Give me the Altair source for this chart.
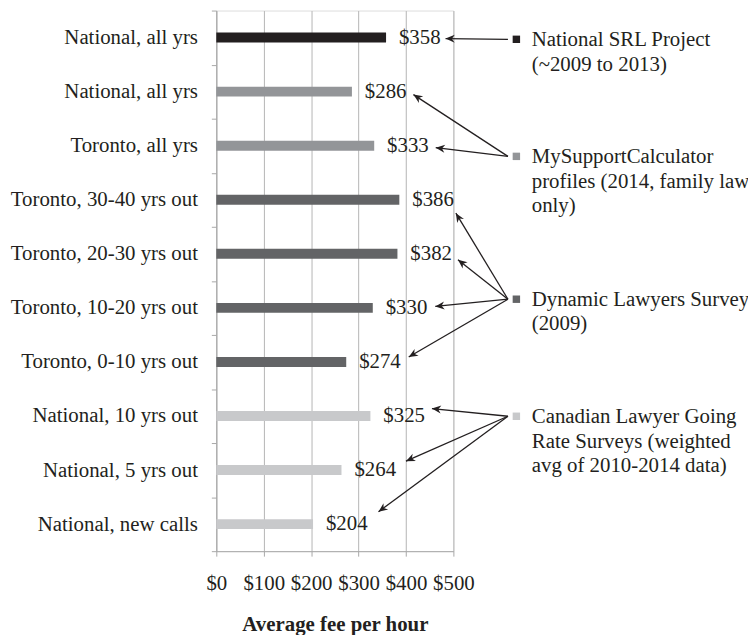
import json
import math
import altair as alt
import pandas as pd

# ---------------- data ----------------
categories = [
    "National, all yrs", "National, all yrs", "Toronto, all yrs",
    "Toronto, 30-40 yrs out", "Toronto, 20-30 yrs out", "Toronto, 10-20 yrs out",
    "Toronto, 0-10 yrs out", "National, 10 yrs out", "National, 5 yrs out",
    "National, new calls",
]
fees = [358, 286, 333, 386, 382, 330, 274, 325, 264, 204]
sources = ["srl", "msc", "msc", "dyn", "dyn", "dyn", "dyn", "can", "can", "can"]
source_keys = ["srl", "msc", "dyn", "can"]
source_names = [
    "National SRL Project\n(~2009 to 2013)",
    "MySupportCalculator\nprofiles (2014, family law\nonly)",
    "Dynamic Lawyers Survey\n(2009)",
    "Canadian Lawyer Going\nRate Surveys (weighted\navg of 2010-2014 data)",
]
x_ticks = [0, 100, 200, 300, 400, 500]

# ---------------- style / layout ----------------
source_colors = ["#231f20", "#939598", "#636466", "#c8c9cb"]
FONT = "Liberation Serif"
TXT = "#231f20"
GRID = "#b4b4b4"
W, H = 239, 545
BAND = H / len(categories)
DPP = 500 / W  # data units per pixel
legend_y = [29, 147, 291, 409]          # first-line centre (px from plot top)
arrow_gap = [60, 62, 62, 57, 61, 63, 63, 62, 65, 66]   # px past bar end
arrow_dy = [1, 3, 2, 13.5, 6, -1.5, -5, -7.5, -9, -12.5]
ARROW_START_PX = 294
SQUARE_PX = 302.5
TEXT_PX = 318

rows = list(range(len(categories)))
df = pd.DataFrame({
    "row": rows,
    "cat": categories,
    "fee": fees,
    "src": sources,
    "lab": ["$" + str(v) for v in fees],
})

leg = pd.DataFrame({
    "src": source_keys,
    "name": source_names,
    "xs": [SQUARE_PX * DPP] * 4,
    "xt": [TEXT_PX * DPP] * 4,
    "yc": legend_y,
    "yb": [v + 6.5 for v in legend_y],
})

arr_rows = []
for i in rows:
    k = source_keys.index(sources[i])
    x0p = ARROW_START_PX
    y0p = legend_y[k]
    x1p = fees[i] / DPP + arrow_gap[i]
    y1p = (i + 0.5) * BAND + arrow_dy[i]
    ang = math.degrees(math.atan2(x1p - x0p, -(y1p - y0p))) % 360
    arr_rows.append({"x0": x0p * DPP, "x1": x1p * DPP, "y0": y0p, "y1": y1p, "ang": ang})
arr = pd.DataFrame(arr_rows)

xscale = alt.Scale(domain=[0, 500], nice=False, zero=True)
xaxis = alt.Axis(
    values=x_ticks, labelExpr="'$' + datum.value", grid=True, gridColor=GRID,
    gridWidth=1, domainColor="#a8a8a8", tickColor="#a8a8a8", tickSize=5,
    labelFont=FONT, labelFontSize=21, labelColor=TXT, labelPadding=17,
    labelOverlap=False, labelFlush=False, labelBound=False,
    title="Average fee per hour", titleFont=FONT, titleFontSize=21,
    titleFontWeight="bold", titleColor=TXT, titlePadding=20,
)
color = alt.Color("src:N", scale=alt.Scale(domain=source_keys, range=source_colors), legend=None)

label_expr = json.dumps(categories) + "[datum.value]"
yaxis = alt.Axis(
    labelExpr=label_expr, tickBand="extent", tickSize=5, tickColor="#a8a8a8",
    domainColor="#a8a8a8", labelFont=FONT, labelFontSize=21, labelColor=TXT,
    labelPadding=14, labelLimit=0, labelOverlap=False, title=None, grid=False,
)
yenc = alt.Y("row:O", scale=alt.Scale(paddingInner=0, paddingOuter=0), axis=yaxis)

bars = alt.Chart(df).mark_bar(size=10).encode(
    x=alt.X("fee:Q", scale=xscale, axis=xaxis), y=yenc, color=color,
)
vals = alt.Chart(df).mark_text(
    align="left", baseline="middle", dx=13, font=FONT, fontSize=21, color=TXT
).encode(x=alt.X("fee:Q", scale=xscale, axis=xaxis), y=yenc, text="lab:N")

lines = alt.Chart(arr).mark_rule(color=TXT, strokeWidth=1.3).encode(
    x=alt.X("x0:Q", scale=xscale, axis=xaxis), x2="x1:Q",
    y=alt.Y("y0:Q", scale=None), y2="y1:Q",
)
heads = alt.Chart(arr).mark_point(
    shape="M0,0L1,2.3L0,1.6L-1,2.3Z", filled=True, size=64, color=TXT, opacity=1, strokeWidth=0
).encode(
    x=alt.X("x1:Q", scale=xscale, axis=xaxis),
    y=alt.Y("y1:Q", scale=None),
    angle=alt.Angle("ang:Q", scale=None),
)
squares = alt.Chart(leg).mark_square(size=56, filled=True, opacity=1).encode(
    x=alt.X("xs:Q", scale=xscale, axis=xaxis), y=alt.Y("yc:Q", scale=None), color=color,
)
texts = alt.Chart(leg).mark_text(
    align="left", baseline="alphabetic", lineBreak="\n", lineHeight=25,
    font=FONT, fontSize=21, color=TXT,
).encode(
    x=alt.X("xt:Q", scale=xscale, axis=xaxis), y=alt.Y("yb:Q", scale=None), text="name:N",
)

chart = alt.layer(bars, vals, lines, heads, squares, texts).properties(
    width=W, height=H,
    autosize=alt.AutoSizeParams(type="none"),
    padding={"left": 210, "top": 0, "right": 297, "bottom": 90},
).configure_view(stroke=None).configure(background="white")

chart.save("out.html", embed_options={"renderer": "svg", "actions": False})
